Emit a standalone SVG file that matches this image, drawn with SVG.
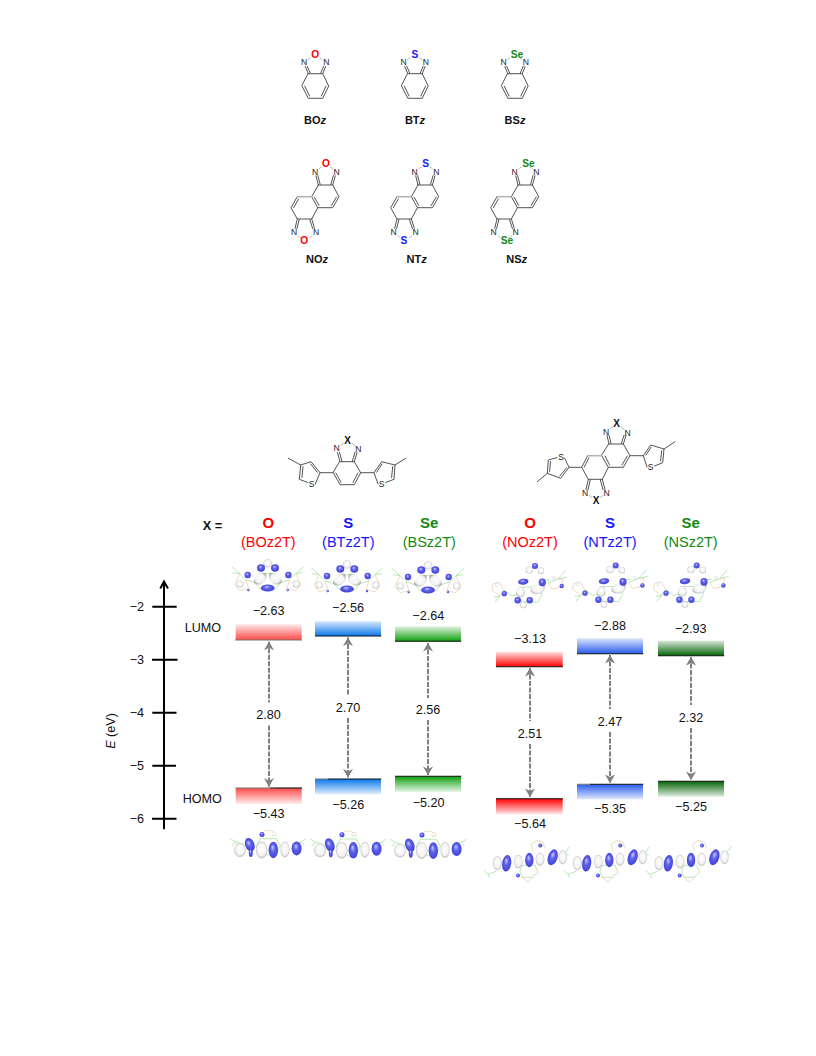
<svg xmlns="http://www.w3.org/2000/svg" width="816" height="1056" viewBox="0 0 816 1056">
<style>
text{font-family:"Liberation Sans",Arial,sans-serif;fill:#111}
.b{stroke:#4a4a4a;stroke-width:.95;fill:none;stroke-linecap:round}
.thin{stroke:#999;stroke-width:.7;fill:none}
.hv{stroke:#b4b4b4;stroke-width:1.6;fill:none}
.at{font-size:8.6px;text-anchor:middle;fill:#222}
.het{font-size:10.2px;font-weight:bold;text-anchor:middle}
.x{font-size:10px;font-weight:bold;text-anchor:middle;fill:#111}
.name{font-size:11px;font-weight:bold;text-anchor:middle}
.name tspan{font-style:italic}
.r{fill:#f00}.bl{fill:#1414ff}.g{fill:#118a11}
.big{font-size:15px;font-weight:bold;text-anchor:middle}
.par{font-size:14.5px;text-anchor:middle}
.v{font-size:12.6px;text-anchor:middle}
.tk{font-size:12.6px;text-anchor:end}
.lab{font-size:12.6px}
.ax{stroke:#000;stroke-width:2;fill:none}
.gap{stroke:#808080;stroke-width:2;stroke-dasharray:5 1.5;fill:none}
.lv{stroke:#111;stroke-width:1.1}
.lvg{stroke:#777;stroke-width:1.1}
.sk{stroke:#98de98;stroke-width:.7;fill:none}
.sk2{stroke:#e6c09c;stroke-width:.6;fill:none}
.lb{fill:url(#lobeB)}.lg{fill:url(#lobeG)}
</style>
<defs>
<radialGradient id="lobeB" cx=".5" cy=".5" r=".58" fx=".42" fy=".32"><stop offset="0" stop-color="#c8ccff"/><stop offset=".4" stop-color="#6062ea"/><stop offset="1" stop-color="#3a3ad0"/></radialGradient>
<radialGradient id="lobeG" cx=".5" cy=".5" r=".56" fx=".5" fy=".4"><stop offset="0" stop-color="#fff"/><stop offset=".68" stop-color="#f2f2f2"/><stop offset="1" stop-color="#a4a4a4"/></radialGradient>
<linearGradient id="uR" x1="0" y1="1" x2="0" y2="0"><stop offset="0" stop-color="#ff4a4a"/><stop offset="1" stop-color="#ffe8e8"/></linearGradient>
<linearGradient id="uB" x1="0" y1="1" x2="0" y2="0"><stop offset="0" stop-color="#0a78ee"/><stop offset="1" stop-color="#d6e8fb"/></linearGradient>
<linearGradient id="uG" x1="0" y1="1" x2="0" y2="0"><stop offset="0" stop-color="#0ca00c"/><stop offset="1" stop-color="#e0f2e0"/></linearGradient>
<linearGradient id="uR2" x1="0" y1="1" x2="0" y2="0"><stop offset="0" stop-color="#f00"/><stop offset="1" stop-color="#ffe0e0"/></linearGradient>
<linearGradient id="uB2" x1="0" y1="1" x2="0" y2="0"><stop offset="0" stop-color="#2a5cf0"/><stop offset="1" stop-color="#dbe4fb"/></linearGradient>
<linearGradient id="uG2" x1="0" y1="1" x2="0" y2="0"><stop offset="0" stop-color="#056405"/><stop offset="1" stop-color="#d8e8d8"/></linearGradient>
<linearGradient id="dR" x1="0" y1="0" x2="0" y2="1"><stop offset="0" stop-color="#ff4a4a"/><stop offset="1" stop-color="#ffecec"/></linearGradient>
<linearGradient id="dB" x1="0" y1="0" x2="0" y2="1"><stop offset="0" stop-color="#0a78ee"/><stop offset="1" stop-color="#e0eefc"/></linearGradient>
<linearGradient id="dG" x1="0" y1="0" x2="0" y2="1"><stop offset="0" stop-color="#0ca00c"/><stop offset="1" stop-color="#e8f6e8"/></linearGradient>
<linearGradient id="dR2" x1="0" y1="0" x2="0" y2="1"><stop offset="0" stop-color="#f00"/><stop offset="1" stop-color="#ffe6e6"/></linearGradient>
<linearGradient id="dB2" x1="0" y1="0" x2="0" y2="1"><stop offset="0" stop-color="#2a5cf0"/><stop offset="1" stop-color="#e0e8fc"/></linearGradient>
<linearGradient id="dG2" x1="0" y1="0" x2="0" y2="1"><stop offset="0" stop-color="#056405"/><stop offset="1" stop-color="#e0ece0"/></linearGradient>
<marker id="ah" markerUnits="userSpaceOnUse" markerWidth="12" markerHeight="12" refX="8.6" refY="5.2" orient="auto-start-reverse"><path d="M0,.2L8.8,5.2L0,10.2L2.6,5.2Z" fill="#808080"/></marker>
<g id="bcore">
<path class="b" d="M308.3 73.7L322.7 73.7L328.7 86L322.7 98.3L308.3 98.3L302 86ZM304.8 86.2L309.6 96M326 86.2L321.3 96M308.3 73.7L305.3 66.5M310.2 73L307.2 66.2M322.7 73.7L325.6 66.5M320.8 73L323.7 66.2"/>
<path class="thin" d="M307.8 59.8L310.6 57.6M322.6 59.8L319.8 57.6"/>
</g>
<g id="ncore">
<path class="b" d="M318.3 185L332.7 185L339 196.7L332.7 207.7L317.7 207.7L311.7 196.7L318.3 185M336.5 197L331.4 205.6M314.4 197.2L319 205.4M297.3 196.7L291 207.7L297.3 219L311.7 219L317.7 207.7M298.6 199L293.7 207.6M318.3 185L316 175.8M320.2 184.4L317.9 175.6M332.7 185L335.3 175.8M330.8 184.4L333.4 175.6M297.3 219L295 228.4M299.2 219.6L296.9 228.6M311.7 219L314.6 228.4M309.8 219.6L312.7 228.6"/>
<path class="hv" d="M297.3 196.7L311.7 196.7"/>
<path class="thin" d="M319 168.8L321.8 166.8M332.8 168.8L330 166.8M298 235.6L300.6 237.8M312.4 235.6L309.4 237.8"/>
</g>
<g id="luL">
<path class="sk" d="M-8 -3L8 -3L13 6L8 12L-8 12L-13 6ZM-13 6L-22 3L-28 -3L-35 -4M-28 -3L-36 -10M13 6L22 3L28 -3L35 -4M28 -3L36 -10"/>
<path class="sk2" d="M-22 3L-19 12L-28 14L-33 8L-28 -3M22 3L19 12L28 14L33 8L28 -3"/>
<circle class="lg" cx="0" cy="-13.3" r="4.2"/>
<path class="lg" d="M-1.5 1C-3 8 -12 10 -14 5C-14 1 -9 -4 -4 -4C-2 -4 -1 -3 -1.5 1Z"/>
<path class="lg" d="M1.5 1C3 8 12 10 14 5C14 1 9 -4 4 -4C2 -4 1 -3 1.5 1Z"/>
<circle class="lg" cx="-27.7" cy="7.3" r="3.5"/><circle class="lg" cx="28.5" cy="7.3" r="3.5"/>
<ellipse class="lb" cx="-6.7" cy="-8.7" rx="4" ry="3.7"/><ellipse class="lb" cx="7.3" cy="-8.7" rx="4" ry="3.7"/>
<ellipse class="lb" cx="0" cy="11.3" rx="6.9" ry="3.6"/>
<circle class="lb" cx="-20" cy="-1.7" r="3.2"/><circle class="lb" cx="20.7" cy="-1.7" r="3.2"/>
<circle class="lb" cx="-19.3" cy="13.3" r="1.2"/><circle class="lb" cx="20" cy="13.3" r="1.2"/>
</g>
<g id="luR">
<path class="sk" d="M-8 2L8 2L12 9L8 17L-8 17L-12 9ZM8 2L12 -5L20 -5M-18 11L-12 9M-18 11L-26 5L-30 11L-36 12M-30 11L-35 17M18 -2L28 -6L36 -15M28 -6L37 -8"/>
<path class="sk2" d="M-26 5L-31 -3L-37 -1L-38 5L-30 11M18 -2L22 4L31 2L33 -6L28 -6"/>
<circle class="lg" cx="-.7" cy="-15" r="3.6"/><circle class="lg" cx="11" cy="-14.3" r="3.2"/>
<path class="lg" d="M-11 2C-15 6 -15 12 -10 12C-6 12 -4 9 -6 4C-7 2 -9 1 -11 2Z"/>
<path class="lg" d="M4 0L14 -1C16 3 14 9 7 9C2 9 -2 6 3 1Z"/>
<circle class="lg" cx="-6.7" cy="20" r="3.2"/>
<circle class="lg" cx="-33.3" cy="0" r="1.5"/><circle class="lg" cx="24" cy="-6.7" r="1.8"/>
<circle class="lb" cx="5" cy="-19" r="3"/>
<ellipse class="lb" cx="-6.7" cy="-3.3" rx="5.2" ry="3" transform="rotate(-8 -6.7 -3.3)"/>
<ellipse class="lb" cx="12.3" cy="-2.7" rx="3.6" ry="3.9"/>
<circle class="lb" cx="-12.3" cy="15.3" r="3.2"/><circle class="lb" cx="-.3" cy="15.3" r="3.2"/>
<circle class="lb" cx="-25.7" cy="8.7" r="2.6"/><circle class="lb" cx="31.7" cy="1" r="2.2"/>
</g>
<g id="hoL">
<path class="sk" d="M-8 -8L8 -8L12 -1L8 8L-8 8L-12 -1ZM-24 -2L-33 -5L-38 -8M-33 -5L-36 -1M24 -2L33 -5L38 -8M33 -5L36 -1"/>
<path class="sk2" d="M-8 -12L-3 -16L3 -16L8 -12"/>
<ellipse class="lg" cx="-28.3" cy="3.3" rx="5.8" ry="6.9"/><ellipse class="lg" cx="-6.7" cy="3.3" rx="5.8" ry="8.4"/><ellipse class="lg" cx="16.7" cy="2.7" rx="4.5" ry="8"/>
<circle class="lg" cx="5.7" cy="-12.7" r="2.2"/>
<ellipse class="lb" cx="-18.5" cy="-2" rx="4.6" ry="7" transform="rotate(-20 -18.5 -2)"/><ellipse class="lb" cx="-17.5" cy="6" rx="2" ry="4.4"/>
<ellipse class="lb" cx="5" cy="3.3" rx="4.7" ry="8.3"/><ellipse class="lb" cx="28.3" cy="1.7" rx="5" ry="7"/>
<circle class="lb" cx="-6.3" cy="-12.3" r="2.5"/>
</g>
<g id="hoR">
<path class="sk" d="M-8 7L5 7L8 14L2 19L-8 19L-10 13ZM-34 13L-42 16L-46 12M-42 16L-40 20M35 -6L40 -12M35 -6L38 -3"/>
<path class="sk2" d="M3 -7L1 -14L7 -18L13 -16L15 -10M-8 19L-2 24L3 19"/>
<ellipse class="lg" cx="-32.7" cy="5" rx="4.3" ry="7"/><ellipse class="lg" cx="-11.7" cy="3.3" rx="4.3" ry="6.8"/><ellipse class="lg" cx="10" cy="1" rx="4.3" ry="6.5"/><ellipse class="lg" cx="32.7" cy="-1" rx="4" ry="7"/>
<ellipse class="lb" cx="-23.3" cy="5" rx="4.5" ry="8.3" transform="rotate(8 -23.3 5)"/><ellipse class="lb" cx="-.7" cy="1.7" rx="4.2" ry="7.2"/><ellipse class="lb" cx="22.7" cy="-1" rx="4.8" ry="8.2" transform="rotate(18 22.7 -1)"/>
<circle class="lb" cx="10.3" cy="-12.7" r="2"/><circle class="lb" cx="-12" cy="17.3" r="2"/>
</g>
</defs>

<g id="BOz"><use href="#bcore"/><text class="at" x="304" y="65">N</text><text class="het r" x="315.3" y="57.5">O</text><text class="at" x="326.3" y="65">N</text><text class="name" x="315" y="123.5">BO<tspan>z</tspan></text></g>
<g id="BTz"><use href="#bcore" x="99.5"/><text class="at" x="403.7" y="65">N</text><text class="het bl" x="415" y="57.5">S</text><text class="at" x="425.8" y="65">N</text><text class="name" x="415" y="123.5">BT<tspan>z</tspan></text></g>
<g id="BSz"><use href="#bcore" x="199.5"/><text class="at" x="503.5" y="65">N</text><text class="het g" x="517" y="57.5">Se</text><text class="at" x="525.8" y="65">N</text><text class="name" x="515" y="123.5">BS<tspan>z</tspan></text></g>

<g id="NOz"><use href="#ncore"/><text class="at" x="315" y="174.8">N</text><text class="het r" x="326" y="167">O</text><text class="at" x="336.7" y="175.3">N</text><text class="at" x="294" y="235.3">N</text><text class="at" x="316" y="235.3">N</text><text class="het r" x="304.3" y="244">O</text><text class="name" x="317" y="263">NO<tspan>z</tspan></text></g>
<g id="NTz"><use href="#ncore" x="99.7"/><text class="at" x="414.7" y="174.8">N</text><text class="het bl" x="425.7" y="167">S</text><text class="at" x="436.4" y="175.3">N</text><text class="at" x="393.7" y="235.3">N</text><text class="at" x="415.7" y="235.3">N</text><text class="het bl" x="404" y="244">S</text><text class="name" x="416.7" y="263">NT<tspan>z</tspan></text></g>
<g id="NSz"><use href="#ncore" x="199.7"/><text class="at" x="514.7" y="174.8">N</text><text class="het g" x="528.5" y="167">Se</text><text class="at" x="536.4" y="175.3">N</text><text class="at" x="493.7" y="235.3">N</text><text class="at" x="515.7" y="235.3">N</text><text class="het g" x="507" y="244">Se</text><text class="name" x="516.7" y="263">NS<tspan>z</tspan></text></g>

<g id="BX2T">
<path class="b" d="M340 461.7L354.3 461.7L360.7 472.7L354.3 484.7L340 484.7L333.3 472.7ZM335.9 473L341 482.4M358 473L353 482.4M340 461.7L337.5 452.5M342 461.4L339.5 452.3M354.3 461.7L357 452.5M352.3 461.4L355 452.3M333.3 472.7L320 472.7L311 461.7L300.7 465L299.3 479.3L307.8 482.5M315.3 484L320 472.7M317.3 472.2L310.6 464M303 466.7L301.9 477.5M300.7 465L288.3 458.3M360.7 472.7L374 472.7L381.7 461.7L395 465L394 479.3L385.6 482.5M378 484L374 472.7M376.7 472.2L382 464M392.7 466.7L391.6 477.5M395 465L405.7 458.3"/>
<path class="thin" d="M340.5 445.6L343.6 443M355.2 446L351.8 443"/>
<text class="at" x="336.7" y="451.3">N</text><text class="at" x="358.3" y="452.3">N</text><text class="x" x="347.7" y="444">X</text><text class="at" x="311.7" y="487">S</text><text class="at" x="381.7" y="487">S</text>
</g>
<g id="NX2T">
<path class="b" d="M609 444L623.3 444L630 455.7L623.3 467.3L608.3 467.3L601.7 455.7ZM627.3 456L622 465M605 456L609.6 465M609 444L607 435.3M611 443.5L609 435.2M623.3 444L626 435.6M621.3 443.5L624 435.4M587.7 455.7L581.7 467.3L588.3 479.3L602.3 479.3L608.3 467.3M588.9 458L584.3 467M588.3 479.3L586 489.5M590.3 479.8L588 489.6M602.3 479.3L605 489.5M600.3 479.8L603 489.6M630 455.7L643.3 455.7L650.7 445L664 449L662.7 462.7L654.6 466M647 467L643.3 455.7M645.9 455.2L651 447.4M661.7 450.6L660.6 461M664 449L675 441.7M581.7 467.3L569 467.3L560.7 478.3L547.3 473.3L548.3 460L557 457.6M564.6 458L569 467.3M566.6 467.8L559.8 476M549.6 471.4L550.5 461.5M547.3 473.3L537.3 481.7"/>
<path class="hv" d="M587.7 455.7L601.7 455.7"/>
<path class="thin" d="M610 429L613 426.5M624.4 429.6L620.6 426.5M589 495.3L592 497.5M603.3 495.3L600 497.5"/>
<text class="at" x="606" y="434.8">N</text><text class="at" x="627.7" y="435.8">N</text><text class="x" x="616.7" y="426.8">X</text><text class="at" x="585" y="495.7">N</text><text class="at" x="606.7" y="495.7">N</text><text class="x" x="596" y="503.5">X</text><text class="at" x="650.7" y="470.3">S</text><text class="at" x="561" y="459.7">S</text>
</g>

<g id="headers">
<text x="202.7" y="529.5" font-size="12.8" font-weight="bold">X =</text>
<text class="big r" x="268.3" y="528">O</text><text class="par r" x="268.3" y="546.7">(BOz2T)</text>
<text class="big bl" x="348.3" y="528">S</text><text class="par bl" x="348.3" y="546.7">(BTz2T)</text>
<text class="big g" x="429.3" y="528">Se</text><text class="par g" x="429.3" y="546.7">(BSz2T)</text>
<text class="big r" x="530" y="528">O</text><text class="par r" x="530" y="547">(NOz2T)</text>
<text class="big bl" x="610" y="528">S</text><text class="par bl" x="610" y="547">(NTz2T)</text>
<text class="big g" x="690.7" y="528">Se</text><text class="par g" x="690.7" y="547">(NSz2T)</text>
</g>

<g id="orbitals">
<use href="#luL" x="267.7" y="576.7"/><use href="#luL" x="347" y="577.7"/><use href="#luL" x="428" y="578.7"/>
<use href="#luR" x="530" y="585"/><use href="#luR" x="610.7" y="584.5"/><use href="#luR" x="691.7" y="584.5"/>
<use href="#hoL" x="268.3" y="846.7"/><use href="#hoL" x="348.3" y="847"/><use href="#hoL" x="428.3" y="847.3"/>
<use href="#hoR" x="530" y="858.3"/><use href="#hoR" x="610" y="858.3"/><use href="#hoR" x="691.7" y="858.3"/>
</g>

<g id="axis">
<path class="ax" d="M164 581V829.3M160.3 588.5L164 581.5L168 588.5M152.3 606.7H176.7M152 659.7H177.5M152.3 712.7H176.5M152.3 765.7H176M152 818.7H176.5"/>
<text class="tk" x="144" y="611.3">−2</text><text class="tk" x="144" y="664.3">−3</text><text class="tk" x="144" y="717.3">−4</text><text class="tk" x="144" y="770.3">−5</text><text class="tk" x="144" y="823.3">−6</text>
<text class="lab" x="184.7" y="632.3">LUMO</text><text class="lab" x="182.7" y="803.3">HOMO</text>
<text class="lab" transform="translate(114.5 731) rotate(-90)" text-anchor="middle"><tspan font-style="italic">E</tspan> (eV)</text>
</g>

<g id="levels">
<rect x="235.7" y="624.3" width="66" height="15.7" fill="url(#uR)"/><path class="lvg" d="M235.3 640H302"/>
<rect x="315" y="621.3" width="66" height="14.7" fill="url(#uB)"/><path class="lv" d="M315 636H381.3"/>
<rect x="395" y="626.3" width="66" height="15" fill="url(#uG)"/><path class="lv" d="M395 641.3H461.3"/>
<rect x="496" y="651.7" width="66.7" height="15" fill="url(#uR2)"/><path class="lv" d="M496 666.7H563"/>
<rect x="577" y="638.3" width="66" height="15.4" fill="url(#uB2)"/><path class="lv" d="M577 653.7H643.3"/>
<rect x="658" y="640.7" width="66" height="15" fill="url(#uG2)"/><path class="lv" d="M658 655.7H724.3"/>
<rect x="235.7" y="788" width="66" height="16" fill="url(#dR)"/><path class="lv" d="M270 788H302"/><path class="lvg" d="M235.3 788H275"/>
<rect x="315" y="779" width="66" height="15.3" fill="url(#dB)"/><path class="lv" d="M328 779H381.3"/><path class="lvg" d="M315 779H328"/>
<rect x="395" y="776.3" width="66" height="15.7" fill="url(#dG)"/><path class="lv" d="M395 776.3H461.3"/>
<rect x="496" y="798.7" width="66.7" height="15.6" fill="url(#dR2)"/><path class="lv" d="M496 798.7H563"/>
<rect x="577" y="784.3" width="66" height="15" fill="url(#dB2)"/><path class="lv" d="M590 784.3H643.3"/><path class="lvg" d="M577 784.3H590"/>
<rect x="658" y="781.3" width="66" height="15.4" fill="url(#dG2)"/><path class="lv" d="M658 781.3H724.3"/>
<text class="v" x="268.7" y="615.3">−2.63</text><text class="v" x="348" y="611.7">−2.56</text><text class="v" x="428.3" y="620">−2.64</text>
<text class="v" x="530" y="643.3">−3.13</text><text class="v" x="610" y="630">−2.88</text><text class="v" x="690.7" y="632.7">−2.93</text>
<text class="v" x="268.7" y="818.3">−5.43</text><text class="v" x="348.3" y="809.3">−5.26</text><text class="v" x="428.7" y="806.7">−5.20</text>
<text class="v" x="530" y="827.7">−5.64</text><text class="v" x="610" y="813">−5.35</text><text class="v" x="691" y="810.7">−5.25</text>
</g>

<g id="connectors">
<path class="gap" marker-start="url(#ah)" d="M269 641.7V702.5"/><path class="gap" marker-end="url(#ah)" d="M269 725.5V786.7"/>
<path class="gap" marker-start="url(#ah)" d="M348 637.5V696"/><path class="gap" marker-end="url(#ah)" d="M348 718V777.5"/>
<path class="gap" marker-start="url(#ah)" d="M428 643V698"/><path class="gap" marker-end="url(#ah)" d="M428 720V775"/>
<path class="gap" marker-start="url(#ah)" d="M530 668V721"/><path class="gap" marker-end="url(#ah)" d="M530 744V797"/>
<path class="gap" marker-start="url(#ah)" d="M610 655V709"/><path class="gap" marker-end="url(#ah)" d="M610 732V783"/>
<path class="gap" marker-start="url(#ah)" d="M691 657V705"/><path class="gap" marker-end="url(#ah)" d="M691 728V780"/>
</g>
<g id="gaps">
<text class="v" x="268.5" y="719">2.80</text><text class="v" x="348" y="711.5">2.70</text><text class="v" x="428" y="713.5">2.56</text>
<text class="v" x="530" y="737.5">2.51</text><text class="v" x="610" y="725.5">2.47</text><text class="v" x="691" y="721.5">2.32</text>
</g>
</svg>
